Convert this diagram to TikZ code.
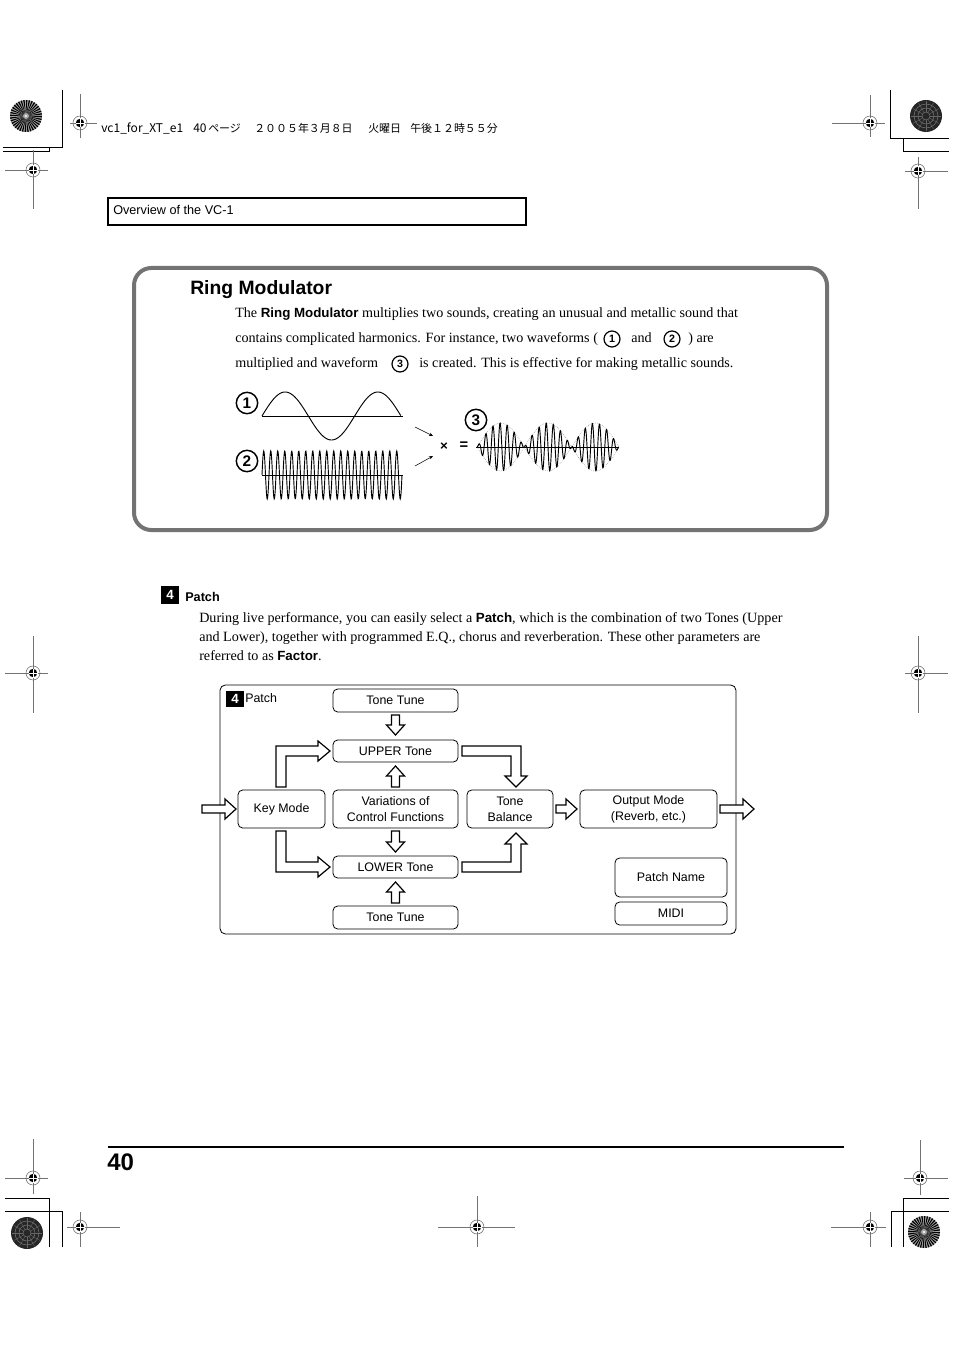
\documentclass[tikz,border=0pt]{standalone}
\usepackage{fontspec}
\setmainfont{Liberation Serif}
\newfontfamily\hv{Liberation Sans}
\newfontfamily\jp{Noto Sans CJK JP}
\usetikzlibrary{calc,arrows.meta}

\newcommand\regmark[6]{%
  \draw[regline] (#3,#2) -- (#4,#2);
  \draw[regline] (#1,#5) -- (#1,#6);
  \draw[black!60, line width=0.4pt] (#1,#2) circle (7);
  \fill[black] (#1,#2) circle (4.2);
  \draw[white, line width=0.5pt] (#1-4.5,#2) -- (#1+4.5,#2) (#1,#2-4.5) -- (#1,#2+4.5);}
\newcommand\starburst[2]{%
  \fill[black!35] (#1,#2) circle (16);
  \foreach \a in {0,10,...,350}{\fill[black,shift={(#1,#2)}] (0,0) -- (\a:16) -- (\a+5:16) -- cycle;}
  \fill[black!35] (#1,#2) circle (3);
  \fill[white] (#1,#2) circle (1.2);}
\newcommand\darkdisc[2]{%
  \fill[black!85] (#1,#2) circle (16);
  \foreach \r in {4,8,12}{\draw[black!55, line width=0.4pt] (#1,#2) circle (\r);}
  \foreach \a in {0,30,...,330}{\draw[black!60, line width=0.3pt, shift={(#1,#2)}] (\a:4) -- (\a:15);}}
\newcommand\arrH[3]{% tail x, tip x, y  (horizontal block arrow)
  \draw[barrow] (#1,#3-4) -- (#2-11,#3-4) -- (#2-11,#3-10) -- (#2,#3) -- (#2-11,#3+10) -- (#2-11,#3+4) -- (#1,#3+4) -- cycle;}
\newcommand\arrV[3]{% x, tail y, tip y (vertical block arrow)
  \draw[barrow] let \n1={sign(#3-#2)} in
  (#1-4,#2) -- (#1-4,#3-10*\n1) -- (#1-9,#3-10*\n1) -- (#1,#3) -- (#1+9,#3-10*\n1) -- (#1+4,#3-10*\n1) -- (#1+4,#2) -- cycle;}

\begin{document}
\begin{tikzpicture}[x=0.75pt,y=-0.75pt,
  box/.style={draw, rounded corners=3.5pt, line width=0.6pt, font=\hv\fontsize{9.3}{12}\selectfont, align=center, inner sep=0pt},
  barrow/.style={draw, fill=white, line width=0.9pt, line join=miter},
  body/.style={anchor=base west, inner sep=0pt, font=\fontsize{10.6}{12}\selectfont},
  cnum/.style={circle, draw, line width=0.9pt, inner sep=0pt, minimum size=12pt, font=\hv\bfseries\fontsize{8}{8}\selectfont},
  cbig/.style={circle, draw, line width=1.1pt, inner sep=0pt, minimum size=16pt, font=\hv\bfseries\fontsize{11.5}{11.5}\selectfont},
  regline/.style={black!55, line width=0.45pt},
  crop/.style={black, line width=0.75pt},
  wave/.style={black, line width=0.7pt},
  numbox/.style={fill=black, text=white, font=\hv\bfseries\fontsize{10}{10}\selectfont, inner sep=0pt, minimum width=13.5pt, minimum height=13.5pt},
  jpt/.style={anchor=base west, inner sep=0pt, font=\jp\fontsize{8.2}{9}\selectfont}]

\useasboundingbox (0,0) rectangle (954,1351);
\fill[white] (0,0) rectangle (954,1351);

% ---------- printer's marks ----------
\starburst{26}{116}
\darkdisc{926}{116}
\darkdisc{27}{1233}
\starburst{924}{1232}
\draw[crop] (62,90) -- (62,148) -- (3,148);
\draw[crop] (49,148) -- (49,152) -- (3,152);
\draw[crop] (890,90) -- (890,139) -- (949,139);
\draw[crop] (903,139) -- (903,152) -- (949,152);
\draw[crop] (5,1198) -- (49,1198) -- (49,1247);
\draw[crop] (5,1211) -- (62,1211) -- (62,1247);
\draw[crop] (949,1198) -- (903,1198) -- (903,1247);
\draw[crop] (949,1211) -- (891,1211) -- (891,1247);
\regmark{80}{123}{70}{97}{94}{138}
\regmark{33}{170}{5}{48}{150}{209}
\regmark{870}{123}{832}{885}{95}{137}
\regmark{918}{171}{905}{948}{157}{209}
\regmark{33}{673}{5}{48}{636}{713}
\regmark{918}{673}{905}{948}{636}{713}
\regmark{33}{1178}{5}{48}{1139}{1194}
\regmark{80}{1227}{67}{120}{1212}{1247}
\regmark{477}{1227}{438}{515}{1196}{1247}
\regmark{870}{1227}{831}{886}{1212}{1247}
\regmark{920}{1178}{904}{948}{1140}{1195}

% header line
\node[jpt, font=\jp\fontsize{9}{9}\selectfont] (h1) at (101,133) {vc1\_for\_XT\_e1};
\node[jpt, font=\jp\fontsize{9}{9}\selectfont] (h2) at (193,133) {40};
\node[jpt] (h3) at (208,133) {ページ};
\node[jpt] (h4) at (254,133) {２００５年３月８日};
\node[jpt] (h5) at (368,133) {火曜日};
\node[jpt] (h6) at (410,133) {午後１２時５５分};

% running head box
\draw[line width=1pt] (108,198) rectangle (526,225);
\node[anchor=base west, inner sep=0pt, font=\hv\fontsize{9.5}{11}\selectfont] (ov) at (113,215) {Overview of the VC-1};

% ---------- Ring Modulator box ----------
\draw[black!55, line width=3pt, rounded corners=13pt] (134,268) rectangle (827,530);
\node[anchor=base west, inner sep=0pt, font=\hv\bfseries\fontsize{14.5}{16}\selectfont] (rmh) at (190,295) {Ring Modulator};
\node[body] (r1) at (235,318) {The {\hv\bfseries\fontsize{10}{12}\selectfont Ring Modulator} multiplies two sounds, creating an unusual and metallic sound that};
\node[body] (r2a) at (235,343) {contains complicated harmonics. For instance, two waveforms (};
\node[cnum] (c1) at (612,339) {1};
\node[body] (r2b) at (631,343) {and};
\node[cnum] (c2) at (672,339) {2};
\node[body] (r2c) at (688,343) {) are};
\node[body] (r3a) at (235,368) {multiplied and waveform};
\node[cnum] (c3) at (400,364) {3};
\node[body] (r3b) at (419,368) {is created. This is effective for making metallic sounds.};

% waveforms
\node[cbig] (w1) at (247,403) {1};
\node[cbig] (w2) at (247,461) {2};
\node[cbig] (w3) at (476,420) {3};
\draw[wave] (262,416) -- (403,416);
\draw[wave, domain=0:1, samples=120, variable=\t] plot ({262+139*\t},{416-24*sin(540*\t)});
\draw[wave] (262,475) -- (403,475);
\draw[wave, domain=0:1, samples=401, variable=\t] plot ({262+140*\t},{475-24*sin(7200*\t)});
\draw[wave] (476,447) -- (619,447);
\draw[black!50, densely dotted, line width=0.4pt, domain=0:1, samples=90, variable=\t] plot ({477+142*\t},{447-24*abs(sin(540*\t))});
\draw[black!50, densely dotted, line width=0.4pt, domain=0:1, samples=90, variable=\t] plot ({477+142*\t},{447+24*abs(sin(540*\t))});
\draw[wave, domain=0:1, samples=601, variable=\t] plot ({477+142*\t},{447-24*sin(540*\t)*sin(7200*\t)});
\coordinate (a1s) at (415,427); \coordinate (a1e) at (433,436);
\coordinate (a2s) at (415,466); \coordinate (a2e) at (433,456);
\draw[line width=0.4pt, -{Stealth[length=3pt,width=2.5pt]}] (a1s) -- (a1e);
\draw[line width=0.4pt, -{Stealth[length=3pt,width=2.5pt]}] (a2s) -- (a2e);
\node[font=\hv\bfseries\fontsize{10}{10}\selectfont, inner sep=0pt] (times) at (444,447) {×};
\node[font=\hv\bfseries\fontsize{11}{11}\selectfont, inner sep=0pt] (eq) at (464,446) {=};

% ---------- Patch section ----------
\node[numbox] (n4) at (170,595) {4};
\node[anchor=base west, inner sep=0pt, font=\hv\bfseries\fontsize{9.5}{11}\selectfont] (ph) at (185,601) {Patch};
\node[body] (p1) at (199,622) {During live performance, you can easily select a {\hv\bfseries\fontsize{10}{12}\selectfont Patch}, which is the combination of two Tones (Upper};
\node[body] (p2) at (199,641) {and Lower), together with programmed E.Q., chorus and reverberation. These other parameters are};
\node[body] (p3) at (199,660) {referred to as {\hv\bfseries\fontsize{10}{12}\selectfont Factor}.};

% diagram frame
\draw[line width=0.6pt, rounded corners=4pt] (220,685) rectangle (736,934);
\node[numbox, minimum height=12pt] (n4b) at (235,699) {4};
\node[anchor=west, inner sep=0pt, font=\hv\fontsize{9.3}{11}\selectfont] (pl) at (245,698) {Patch};

\node[box, minimum width=125*0.75pt, minimum height=23*0.75pt] (tt1) at (395.5,700.5) {Tone Tune};
\node[box, minimum width=125*0.75pt, minimum height=22*0.75pt] (up) at (395.5,751) {UPPER Tone};
\node[box, minimum width=125*0.75pt, minimum height=38*0.75pt] (var) at (395.5,809) {Variations of\\Control Functions};
\node[box, minimum width=125*0.75pt, minimum height=22*0.75pt] (low) at (395.5,867) {LOWER Tone};
\node[box, minimum width=125*0.75pt, minimum height=23*0.75pt] (tt2) at (395.5,917.5) {Tone Tune};
\node[box, minimum width=87*0.75pt, minimum height=38*0.75pt] (key) at (281.5,809) {Key Mode};
\node[box, minimum width=86*0.75pt, minimum height=38*0.75pt] (bal) at (510,809) {Tone\\Balance};
\node[box, minimum width=137*0.75pt, minimum height=38*0.75pt] (out) at (648.5,809) {Output Mode\\(Reverb, etc.)};
\node[box, minimum width=112*0.75pt, minimum height=39*0.75pt] (pn) at (671,877.5) {Patch Name};
\node[box, minimum width=112*0.75pt, minimum height=23*0.75pt] (midi) at (671,913.5) {MIDI};

% block arrows
\arrH{202}{236}{809}
\arrH{720}{754}{809}
\arrH{556}{577}{809}
\arrV{395.5}{715}{735}
\arrV{395.5}{787}{766}
\arrV{395.5}{831}{852}
\arrV{395.5}{903}{882}
\draw[barrow] (276,787) -- (276,746) -- (318,746) -- (318,741) -- (330,751) -- (318,761) -- (318,756) -- (286,756) -- (286,787) -- cycle;
\draw[barrow] (276,831) -- (276,872) -- (318,872) -- (318,877) -- (330,867) -- (318,857) -- (318,862) -- (286,862) -- (286,831) -- cycle;
\draw[barrow] (462,746) -- (521,746) -- (521,776) -- (527,776) -- (516,787) -- (505,776) -- (511,776) -- (511,756) -- (462,756) -- cycle;
\draw[barrow] (462,872) -- (521,872) -- (521,844) -- (527,844) -- (516,833) -- (505,844) -- (511,844) -- (511,862) -- (462,862) -- cycle;

% ---------- footer ----------
\draw[line width=2.2pt] (108,1147) -- (844,1147);
\node[anchor=base west, inner sep=0pt, font=\hv\bfseries\fontsize{18}{20}\selectfont] (pg) at (107,1170) {40};

\end{tikzpicture}
\end{document}
